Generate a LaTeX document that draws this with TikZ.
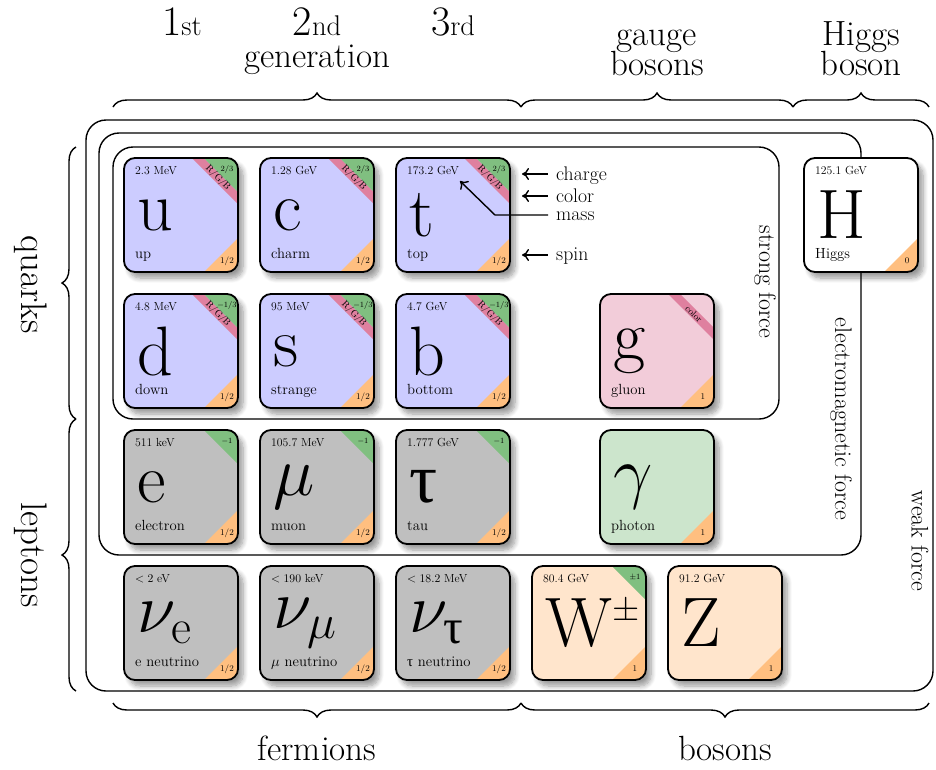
\RequirePackage{fix-cm}
\documentclass[tikz,border=0pt]{standalone}
\usepackage{fontspec}
\newfontfamily\greekup{Liberation Serif}
\usepackage{etoolbox}
\usetikzlibrary{shadows.blur,decorations.pathreplacing,calc,arrows.meta}

\definecolor{quarkfill}{rgb}{0.8,0.8,1}
\definecolor{leptonfill}{rgb}{0.75,0.75,0.75}
\definecolor{gluonfill}{rgb}{0.95,0.8,0.85}
\definecolor{photonfill}{rgb}{0.8,0.9,0.8}
\definecolor{bosonfill}{rgb}{1,0.9,0.8}
\definecolor{colourband}{rgb}{0.875,0.5,0.625}
\definecolor{chargecorner}{rgb}{0.5,0.75,0.5}
\definecolor{spincorner}{rgb}{1,0.75,0.5}

\newcommand\uptauchar{{\greekup τ}}

\tikzset{
  cardbox/.style={rectangle, rounded corners=11pt, minimum width=114pt, minimum height=114pt,
     inner sep=0pt, outer sep=0pt, anchor=north west,
     blur shadow={shadow xshift=5pt, shadow yshift=-6pt, shadow blur radius=5pt, shadow blur steps=8}},
  cardline/.style={line width=1.8pt, rounded corners=11pt},
  symbolfont/.style={inner sep=0pt, anchor=west, font=\fontsize{70}{70}\selectfont},
  masslabel/.style={inner sep=0pt, anchor=base west, font=\fontsize{11.7}{13}\selectfont},
  namelabel/.style={inner sep=0pt, anchor=base west, font=\fontsize{14.7}{16}\selectfont},
  chargelabel/.style={inner sep=0pt, font=\fontsize{8}{9}\selectfont},
  spinlabel/.style={inner sep=0pt, font=\fontsize{8.8}{10}\selectfont},
  colourlabel/.style={inner sep=0pt, rotate=-45, font=\fontsize{9.5}{10}\selectfont},
  forcebox/.style={line width=1.4pt, rounded corners=20pt},
  bracepath/.style={decorate, decoration={brace, amplitude=14pt}, line width=1.4pt},
  toplabel/.style={inner sep=0pt, anchor=base, font=\fontsize{35}{35}\selectfont},
  sidelabel/.style={inner sep=0pt, rotate=-90, font=\fontsize{37}{37}\selectfont},
  forcelabel/.style={inner sep=0pt, rotate=-90, font=\fontsize{24}{24}\selectfont},
  legendtext/.style={inner sep=0pt, anchor=base west, font=\fontsize{19.7}{20}\selectfont},
  legendarrow/.style={line width=1.4pt, {Computer Modern Rightarrow[length=7pt,width=12pt]}-},
}

% #1 name, #2 top-left, #3 fill, #4 symbol, #5 mass, #6 label, #7 charge, #8 spin, #9 colour
\newcommand\particlecard[9]{%
  \node[cardbox, fill=#3] (#1) at #2 {};
  \begin{scope}[shift={(#1.north west)}]
    \ifstrempty{#9}{}{\fill[colourband] (68,0) -- (80,0) -- (114,-34) -- (114,-46) -- cycle;}
    \ifstrempty{#7}{}{\fill[chargecorner] (80,0) -- (103,0) arc[start angle=90, end angle=0, radius=11] -- (114,-34) -- cycle;}
    \ifstrempty{#8}{}{\fill[spincorner] (114,-80) -- (114,-103) arc[start angle=0, end angle=-90, radius=11] -- (80,-114) -- cycle;}
    \draw[cardline] (0,0) rectangle (114,-114);
    \ifstrempty{#9}{}{\node[colourlabel] (#1-col) at (94,-20) {#9};}
    \ifstrempty{#7}{}{\node[chargelabel] (#1-chg) at (103,-11) {#7};}
    \ifstrempty{#8}{}{\node[spinlabel] (#1-spin) at (103,-103) {#8};}
    \ifstrempty{#5}{}{\node[masslabel] (#1-mass) at (11,-16) {#5};}
    \ifstrempty{#6}{}{\node[namelabel] (#1-name) at (11,-100) {#6};}
    \node[symbolfont] (#1-sym) at (13,-57) {#4};
  \end{scope}
}

\newcommand\genlabel[2]{{\fontsize{42}{42}\selectfont #1}{\fontsize{28.5}{28.5}\selectfont #2}}

\begin{document}
\begin{tikzpicture}[x=1pt, y=1pt]
\useasboundingbox (0,0) rectangle (936,-769);

% force frames
\draw[forcebox] (86,-120) rectangle (933,-691);
\draw[forcebox] (99,-133) rectangle (861,-555);
\draw[forcebox] (113,-147) rectangle (779,-419);

% quarks
\particlecard{u}{(124,-158)}{quarkfill}{u}{2.3 MeV}{up}{2/3}{1/2}{R/G/B}
\particlecard{c}{(260,-158)}{quarkfill}{c}{1.28 GeV}{charm}{2/3}{1/2}{R/G/B}
\particlecard{t}{(396,-158)}{quarkfill}{t}{173.2 GeV}{top}{2/3}{1/2}{R/G/B}
\particlecard{d}{(124,-294)}{quarkfill}{d}{4.8 MeV}{down}{$-1/3$}{1/2}{R/G/B}
\particlecard{s}{(260,-294)}{quarkfill}{s}{95 MeV}{strange}{$-1/3$}{1/2}{R/G/B}
\particlecard{b}{(396,-294)}{quarkfill}{b}{4.7 GeV}{bottom}{$-1/3$}{1/2}{R/G/B}
% leptons
\particlecard{e}{(124,-430)}{leptonfill}{e}{511 keV}{electron}{$-1$}{1/2}{}
\particlecard{mu}{(260,-430)}{leptonfill}{$\mu$}{105.7 MeV}{muon}{$-1$}{1/2}{}
\particlecard{tau}{(396,-430)}{leptonfill}{\uptauchar}{1.777 GeV}{tau}{$-1$}{1/2}{}
\particlecard{nue}{(124,-566)}{leptonfill}{$\nu_{\mathrm{e}}$}{$<2$ eV}{e neutrino}{}{1/2}{}
\particlecard{numu}{(260,-566)}{leptonfill}{$\nu_{\mu}$}{$<190$ keV}{$\mu$ neutrino}{}{1/2}{}
\particlecard{nutau}{(396,-566)}{leptonfill}{$\nu_{\hbox{\fontsize{49}{49}\selectfont\uptauchar}}$}{$<18.2$ MeV}{\uptauchar{} neutrino}{}{1/2}{}
% gauge bosons
\particlecard{g}{(600,-294)}{gluonfill}{g}{}{gluon}{}{1}{color}
\particlecard{gamma}{(600,-430)}{photonfill}{$\gamma$}{}{photon}{}{1}{}
\particlecard{W}{(532,-566)}{bosonfill}{$\mathrm{W}^{\scriptscriptstyle\pm}$}{80.4 GeV}{}{$\pm1$}{1}{}
\particlecard{Z}{(668,-566)}{bosonfill}{Z}{91.2 GeV}{}{}{1}{}
% Higgs
\particlecard{H}{(804,-158)}{white}{H}{125.1 GeV}{Higgs}{}{0}{}

% legend
\node[legendtext] (lcharge) at (556,-180) {charge};
\node[legendtext] (lcolor) at (556,-202) {color};
\node[legendtext] (lmass) at (556,-220) {mass};
\node[legendtext] (lspin) at (556,-260) {spin};
\coordinate (tipcharge) at (522,-174);
\coordinate (endcharge) at (548,-174);
\coordinate (tipcolor) at (522,-196);
\coordinate (endcolor) at (548,-196);
\coordinate (tipmass) at (460,-181);
\coordinate (bendmass) at (495,-215);
\coordinate (endmass) at (548,-215);
\coordinate (tipspin) at (522,-255);
\coordinate (endspin) at (548,-255);
\draw[legendarrow] (tipcharge) -- (endcharge);
\draw[legendarrow] (tipcolor) -- (endcolor);
\draw[legendarrow] (tipmass) -- (bendmass) -- (endmass);
\draw[legendarrow] (tipspin) -- (endspin);

% force labels
\node[forcelabel] (strong) at (765,-282) {strong force};
\node[forcelabel] (emforce) at (841,-419) {electromagnetic force};
\node[forcelabel] (weak) at (920,-541) {weak force};

% top braces and labels
\draw[bracepath] (113,-107) -- (521,-107);
\draw[bracepath] (521,-107) -- (793,-107);
\draw[bracepath] (793,-107) -- (929,-107);
\node[toplabel] (gen1) at (182,-35) {\genlabel{1}{st}};
\node[toplabel] (gen2) at (317,-35) {\genlabel{2}{nd}};
\node[toplabel] (gen3) at (453,-35) {\genlabel{3}{rd}};
\node[toplabel] (generation) at (317,-67) {generation};
\node[toplabel] (gauge1) at (657,-45) {gauge};
\node[toplabel] (gauge2) at (657,-75) {bosons};
\node[toplabel] (higgs1) at (861,-45) {Higgs};
\node[toplabel] (higgs2) at (861,-75) {boson};

% left braces and labels
\draw[bracepath] (76,-419) -- (76,-147);
\draw[bracepath] (76,-691) -- (76,-419);
\node[sidelabel] (quarks) at (31,-285) {quarks};
\node[sidelabel] (leptons) at (31,-555) {leptons};

% bottom braces and labels
\draw[bracepath] (521,-703) -- (113,-703);
\draw[bracepath] (929,-703) -- (521,-703);
\node[toplabel] (fermions) at (317,-760) {fermions};
\node[toplabel] (bosons) at (725,-760) {bosons};
\end{tikzpicture}
\end{document}
